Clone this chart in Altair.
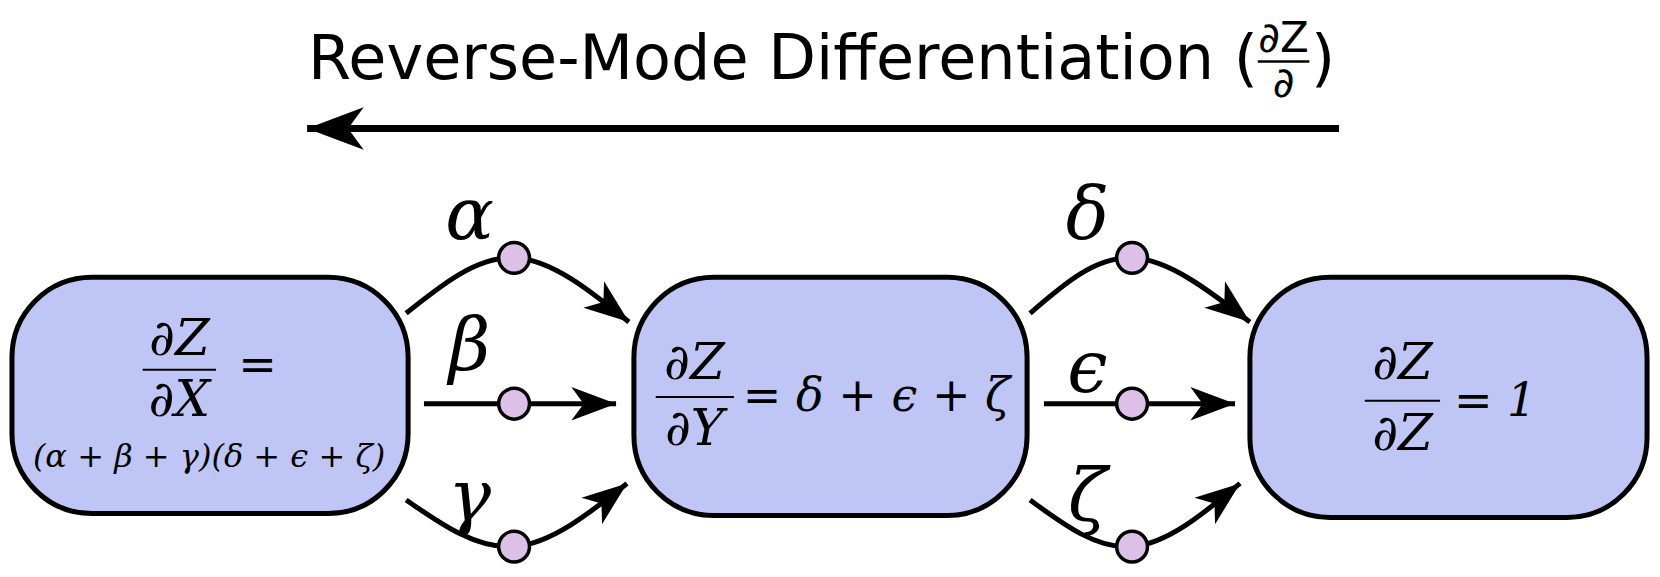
import altair as alt
import pandas as pd

# boxes (left, right, top, bottom)
box_x = [4, 632, 1254]
box_x2 = [404, 1029, 1655]
box_y = [277, 277, 277]
box_y2 = [520, 522, 524]

# edge curves: start, middle dot, end tip
edge_ids = ["a", "b", "g", "d", "e", "z"]
edge_x = [[402, 511, 627], [420, 511, 614], [402, 511, 625],
          [1032, 1135, 1254], [1046, 1135, 1239], [1032, 1135, 1244]]
edge_y = [[314, 257, 323], [407, 407, 407], [506, 554, 489],
          [314, 257, 323], [407, 407, 407], [506, 554, 489]]
tip_angle = [38, 0, 322, 38, 0, 322]

edge_label = ["α", "β", "γ", "δ", "ϵ", "ζ"]
label_x = [466, 466, 466, 1090, 1090, 1090]
label_y = [215, 350, 505, 215, 372, 505]

# math text inside boxes
math_text = ["∂Z", "∂X", "=", "(α + β + γ)(δ + ϵ + ζ)",
             "∂Z", "∂Y", "= δ + ϵ + ζ",
             "∂Z", "∂Z", "= 1"]
math_x = [173, 173, 252, 203, 693, 693, 742, 1408, 1408, 1460]
math_y = [341, 404, 368, 462, 366, 434, 400, 366, 439, 405]
math_size = [50, 50, 46, 32, 50, 50, 46, 50, 50, 46]
math_align = ["center", "center", "center", "center", "center", "center",
              "left", "center", "center", "left"]
bar_x = [136, 654, 1370]
bar_x2 = [210, 733, 1446]
bar_y = [372, 400, 404]

title_text = "Reverse-Mode Differentiation ("
arrow_x = [1344, 302]
arrow_y = [124, 124]

W, H = 1660, 577
xs = alt.Scale(domain=[0, W], nice=False, zero=False)
ys = alt.Scale(domain=[0, H], nice=False, zero=False, reverse=True)
X = lambda f: alt.X(f, scale=xs, axis=None)
Y = lambda f: alt.Y(f, scale=ys, axis=None)

boxes = pd.DataFrame({"x": box_x, "x2": box_x2, "y": box_y, "y2": box_y2})
box_layer = alt.Chart(boxes).mark_rect(
    cornerRadius=80, fill="#bfc6f5", stroke="black", strokeWidth=5
).encode(x=X("x:Q"), x2="x2:Q", y=Y("y:Q"), y2="y2:Q")

rows = []
for i, e in enumerate(edge_ids):
    for k in range(3):
        rows.append({"edge": e, "o": k, "x": edge_x[i][k], "y": edge_y[i][k]})
edges = pd.DataFrame(rows)
curve_layer = alt.Chart(edges).mark_line(
    color="black", strokeWidth=5, interpolate="natural"
).encode(x=X("x:Q"), y=Y("y:Q"), detail="edge:N", order="o:Q")

head_path = "M 0 0 L -2 -0.75 L -1.45 0 L -2 0.75 Z"
tips = pd.DataFrame({"x": [r[2] for r in edge_x], "y": [r[2] for r in edge_y],
                     "angle": tip_angle})
tip_layer = alt.Chart(tips).mark_point(
    shape=head_path, filled=True, color="black", size=2000, opacity=1
).encode(x=X("x:Q"), y=Y("y:Q"), angle=alt.Angle("angle:Q", scale=None))

dots = pd.DataFrame({"x": [r[1] for r in edge_x], "y": [r[1] for r in edge_y]})
dot_layer = alt.Chart(dots).mark_circle(
    size=950, fill="#dcc0e8", stroke="black", strokeWidth=3.5, opacity=1
).encode(x=X("x:Q"), y=Y("y:Q"))

labels = pd.DataFrame({"t": edge_label, "x": label_x, "y": label_y})
label_layer = alt.Chart(labels).mark_text(
    font="DejaVu Serif", fontStyle="italic", fontSize=72, baseline="middle"
).encode(x=X("x:Q"), y=Y("y:Q"), text="t:N")

math = pd.DataFrame({"t": math_text, "x": math_x, "y": math_y,
                     "s": math_size, "a": math_align})
math_layers = []
for a in ["center", "left"]:
    math_layers.append(alt.Chart(math[math.a == a]).mark_text(
        font="DejaVu Serif", fontStyle="italic", baseline="middle", align=a
    ).encode(x=X("x:Q"), y=Y("y:Q"), text="t:N",
             size=alt.Size("s:Q", scale=None)))

bars = pd.DataFrame({"x": bar_x, "x2": bar_x2, "y": bar_y})
bar_layer = alt.Chart(bars).mark_rule(color="black", strokeWidth=2).encode(
    x=X("x:Q"), x2="x2:Q", y=Y("y:Q"))

# title with its small fraction
title_df = pd.DataFrame({"t": [title_text], "x": [1262], "y": [53]})
title_layer = alt.Chart(title_df).mark_text(
    font="DejaVu Sans", fontSize=62, align="right", baseline="middle"
).encode(x=X("x:Q"), y=Y("y:Q"), text="t:N")
frac_df = pd.DataFrame({"t": ["∂Z", "∂", ")"], "x": [1288, 1288, 1328],
                        "y": [32, 78, 53], "s": [42, 42, 62]})
frac_layer = alt.Chart(frac_df).mark_text(
    font="DejaVu Sans", baseline="middle", align="center"
).encode(x=X("x:Q"), y=Y("y:Q"), text="t:N", size=alt.Size("s:Q", scale=None))
frac_bar = alt.Chart(pd.DataFrame({"x": [1262], "x2": [1314], "y": [55]})).mark_rule(
    color="black", strokeWidth=2.5).encode(x=X("x:Q"), x2="x2:Q", y=Y("y:Q"))

arrow = pd.DataFrame({"x": arrow_x, "y": arrow_y, "o": [0, 1]})
arrow_line = alt.Chart(arrow).mark_line(color="black", strokeWidth=7).encode(
    x=X("x:Q"), y=Y("y:Q"), order="o:Q")
arrow_head = alt.Chart(arrow[arrow.o == 1]).mark_point(
    shape=head_path, filled=True, color="black", size=3200, angle=180, opacity=1
).encode(x=X("x:Q"), y=Y("y:Q"))

chart = alt.layer(
    curve_layer, box_layer, bar_layer, *math_layers, tip_layer, dot_layer,
    label_layer, arrow_line, arrow_head, title_layer, frac_layer, frac_bar
).properties(
    width=W - 16, height=H - 16, padding=0, autosize=alt.AutoSizeParams(type="none")
).configure_view(strokeWidth=0)

chart.save("out.html", embed_options={"renderer": "svg", "actions": False})
